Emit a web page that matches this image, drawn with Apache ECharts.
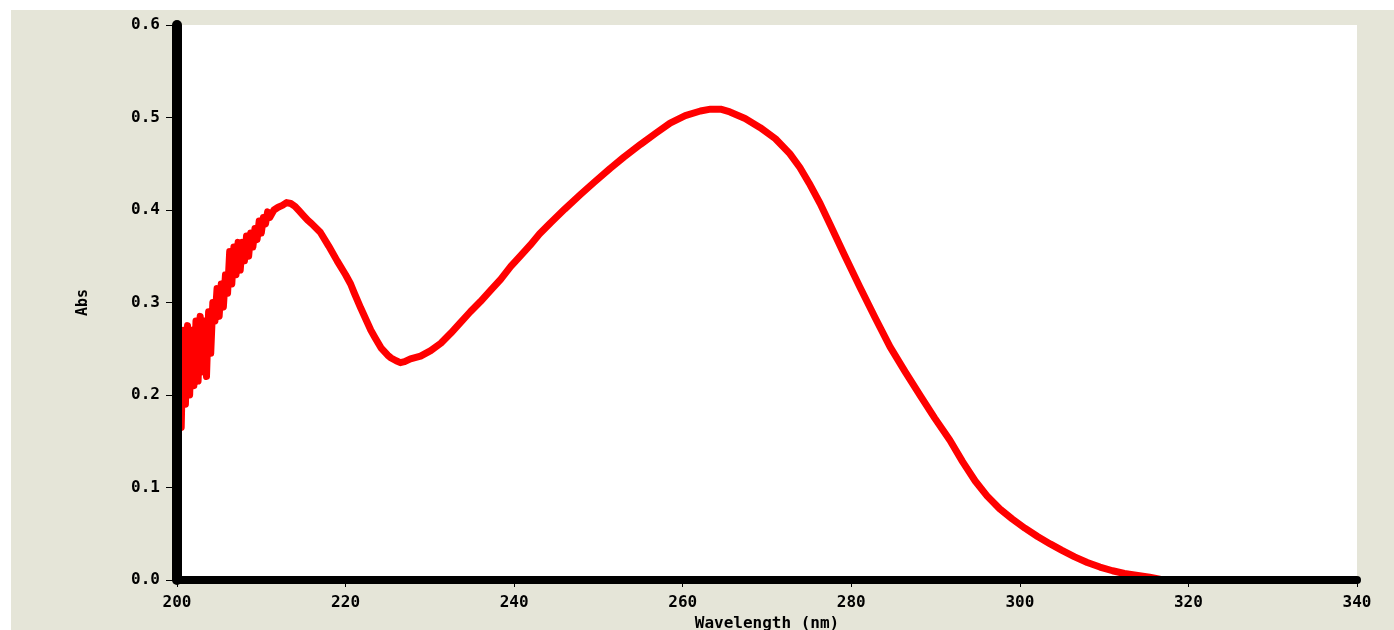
<!DOCTYPE html>
<html>
<head>
<meta charset="utf-8">
<script src="https://cdn.jsdelivr.net/npm/echarts@6/dist/echarts.min.js"></script>
<style>
  html, body { margin: 0; padding: 0; background: #ffffff; }
  #bg { position: absolute; left: 11px; top: 10px; width: 1383px; height: 620px; background: #e5e5d8; }
  #chart { position: absolute; left: 0; top: 0; width: 1394px; height: 630px; }
</style>
</head>
<body>
<div id="bg"></div>
<div id="chart"></div>
<script>
// Wavelength (nm)
const wavelength = [
  200.00, 200.25, 200.50, 200.75, 201.00, 201.25, 201.50, 201.75, 202.00, 202.25,
  202.50, 202.75, 203.00, 203.25, 203.50, 203.75, 204.00, 204.25, 204.50, 204.75,
  205.00, 205.25, 205.50, 205.75, 206.00, 206.25, 206.50, 206.75, 207.00, 207.25,
  207.50, 207.75, 208.00, 208.25, 208.50, 208.75, 209.00, 209.25, 209.50, 209.75,
  210.00, 210.25, 210.50, 210.75, 211.00, 211.50, 212.00, 212.50, 213.00, 213.50,
  214.00, 214.50, 215.00, 215.50, 216.00, 217.0, 218.0, 219.0, 220.0, 220.6,
  221.0, 221.8, 222.5, 223.0, 223.5, 224.2, 225.0, 225.4, 226.0, 226.5,
  227.0, 227.7, 228.9, 230.1, 231.3, 232.5, 233.6, 234.8, 236.0, 237.2,
  238.4, 239.6, 240.8, 241.9, 243.0, 244.3, 246.0, 247.9, 249.5, 251.4,
  253.0, 255.0, 256.8, 258.5, 260.3, 262.1, 263.3, 264.5, 265.6, 267.4,
  269.2, 271.0, 272.7, 273.9, 275.0, 276.3, 277.5, 279.2, 281.0, 282.8,
  284.6, 286.4, 288.2, 289.9, 291.7, 293.2, 294.7, 296.1, 297.6, 299.1,
  300.6, 302.1, 303.6, 305.0, 306.5, 308.0, 309.5, 311.0, 312.4, 314.0,
  315.4, 316.6
];
// Absorbance
const absorbance = [
  0.170, 0.260, 0.165, 0.270, 0.190, 0.275, 0.200, 0.270, 0.210, 0.280,
  0.215, 0.285, 0.225, 0.280, 0.220, 0.290, 0.245, 0.300, 0.280, 0.315,
  0.285, 0.320, 0.295, 0.330, 0.310, 0.355, 0.320, 0.360, 0.330, 0.365,
  0.335, 0.365, 0.345, 0.372, 0.350, 0.375, 0.360, 0.380, 0.368, 0.388,
  0.375, 0.392, 0.385, 0.398, 0.392, 0.400, 0.403, 0.405, 0.408, 0.407,
  0.404, 0.399, 0.394, 0.389, 0.385, 0.376, 0.361, 0.345, 0.330, 0.320,
  0.311, 0.294, 0.280, 0.270, 0.262, 0.251, 0.243, 0.240, 0.237, 0.235,
  0.236, 0.239, 0.242, 0.248, 0.256, 0.267, 0.278, 0.290, 0.301, 0.313,
  0.325, 0.339, 0.351, 0.362, 0.374, 0.386, 0.401, 0.417, 0.430, 0.445,
  0.457, 0.471, 0.483, 0.494, 0.502, 0.507, 0.509, 0.509, 0.506, 0.499,
  0.489, 0.477, 0.461, 0.446, 0.429, 0.407, 0.384, 0.351, 0.317, 0.284,
  0.252, 0.225, 0.199, 0.175, 0.151, 0.128, 0.107, 0.091, 0.077, 0.066,
  0.056, 0.047, 0.039, 0.032, 0.025, 0.019, 0.014, 0.010, 0.007, 0.005,
  0.003, 0.001
];
const xTicks = [200, 220, 240, 260, 280, 300, 320, 340];
const yTicks = [0.0, 0.1, 0.2, 0.3, 0.4, 0.5, 0.6];
const xTitle = 'Wavelength (nm)';
const yTitle = 'Abs';

const seriesData = wavelength.map((w, i) => [w, absorbance[i]]);
const labelFont = { color: '#000', fontFamily: 'DejaVu Sans Mono', fontWeight: 'bold', fontSize: 16 };

const chart = echarts.init(document.getElementById('chart'), null, { renderer: 'canvas' });
chart.setOption({
  backgroundColor: 'transparent',
  animation: false,
  grid: {
    left: 177, right: 37, top: 25, bottom: 50,
    containLabel: false,
    outerBoundsMode: 'none',
    show: true, backgroundColor: '#ffffff', borderWidth: 0
  },
  xAxis: {
    type: 'value',
    min: xTicks[0], max: xTicks[xTicks.length - 1], interval: 20,
    z: 10,
    name: xTitle, nameLocation: 'middle', nameGap: 33,
    nameTextStyle: { color: '#000', fontFamily: 'DejaVu Sans Mono', fontWeight: 'bold', fontSize: 16 },
    axisLine: { show: true, lineStyle: { color: '#000', width: 8, cap: 'round' } },
    axisTick: { show: true, length: 7, lineStyle: { color: '#000', width: 1 } },
    axisLabel: Object.assign({ margin: 15, formatter: v => String(v) }, labelFont),
    splitLine: { show: false }
  },
  yAxis: {
    type: 'value',
    min: yTicks[0], max: yTicks[yTicks.length - 1], interval: 0.1,
    z: 10,
    name: yTitle, nameLocation: 'middle', nameGap: 86, nameRotate: 90,
    nameTextStyle: { color: '#000', fontFamily: 'DejaVu Sans Mono', fontWeight: 'bold', fontSize: 15 },
    axisLine: { show: true, lineStyle: { color: '#000', width: 10, cap: 'round' } },
    axisTick: { show: true, length: 11, lineStyle: { color: '#000', width: 1 } },
    axisLabel: Object.assign({ margin: 17, formatter: v => v.toFixed(1) }, labelFont),
    splitLine: { show: false }
  },
  series: [{
    type: 'line',
    data: seriesData,
    showSymbol: false,
    smooth: false,
    z: 2,
    lineStyle: { color: '#ff0000', width: 7, join: 'round', cap: 'round' },
    itemStyle: { color: '#ff0000' }
  }]
});
</script>
</body>
</html>
